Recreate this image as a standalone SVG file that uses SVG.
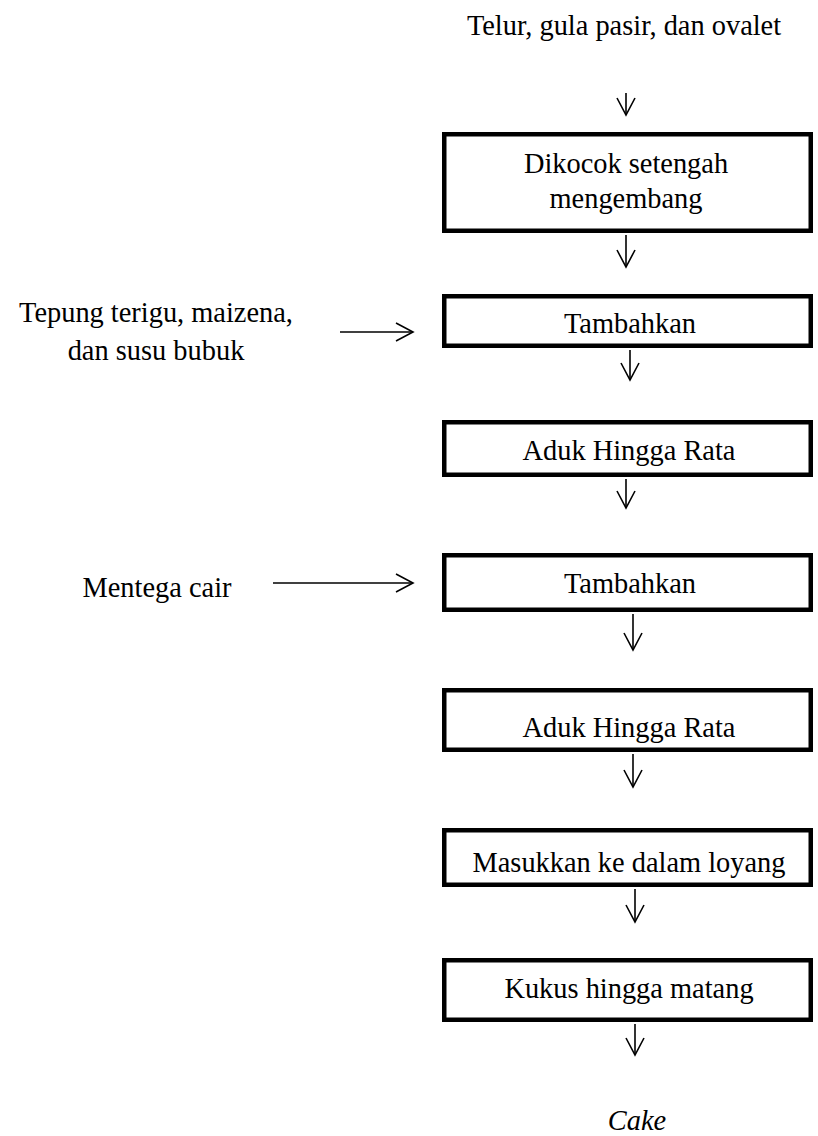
<svg xmlns="http://www.w3.org/2000/svg" width="818" height="1136" viewBox="0 0 818 1136">
<style>
.box{fill:#fff;stroke:#000;stroke-width:4.5}
.t{font-family:"Liberation Serif","Times New Roman",serif;font-size:28.4px;fill:#000;text-anchor:middle}
.it{font-style:italic}
.c{stroke:#000;stroke-width:1.6;fill:none;marker-end:url(#ah)}
</style>
<defs>
<marker id="ah" viewBox="0 0 20 20" refX="18" refY="10" markerWidth="20" markerHeight="20" markerUnits="userSpaceOnUse" orient="auto">
<path d="M1,1 L18,10 L1,19" fill="none" stroke="#000" stroke-width="1.6"/>
</marker>
</defs>
<rect width="818" height="1136" fill="#fff"/>
<g id="connectors">
<path class="c" d="M626,93 V115"/>
<path class="c" d="M626,235 V267"/>
<path class="c" d="M630,350 V380"/>
<path class="c" d="M626,479 V508"/>
<path class="c" d="M633,614 V650"/>
<path class="c" d="M633,754 V787"/>
<path class="c" d="M635,889 V922"/>
<path class="c" d="M635,1024 V1055"/>
<path class="c" d="M340,332 H413"/>
<path class="c" d="M273,583 H413"/>
</g>
<g id="input1"><text class="t" x="624" y="35">Telur, gula pasir, dan ovalet</text></g>
<g id="input2"><text class="t" x="156" y="322">Tepung terigu, maizena,</text><text class="t" x="156" y="360">dan susu bubuk</text></g>
<g id="input3"><text class="t" x="157" y="597">Mentega cair</text></g>
<g id="n1"><rect class="box" x="444.25" y="134.25" width="366.5" height="96.5"/><text class="t" x="626" y="173">Dikocok setengah</text><text class="t" x="626" y="208">mengembang</text></g>
<g id="n2"><rect class="box" x="444.25" y="296.25" width="366.5" height="49.5"/><text class="t" x="630" y="333">Tambahkan</text></g>
<g id="n3"><rect class="box" x="444.25" y="422.25" width="366.5" height="52.5"/><text class="t" x="629" y="460">Aduk Hingga Rata</text></g>
<g id="n4"><rect class="box" x="444.25" y="555.25" width="366.5" height="54.5"/><text class="t" x="630" y="593">Tambahkan</text></g>
<g id="n5"><rect class="box" x="444.25" y="690.25" width="366.5" height="59.5"/><text class="t" x="629" y="737">Aduk Hingga Rata</text></g>
<g id="n6"><rect class="box" x="444.25" y="830.25" width="366.5" height="54.5"/><text class="t" x="629" y="872">Masukkan ke dalam loyang</text></g>
<g id="n7"><rect class="box" x="444.25" y="960.25" width="366.5" height="59.5"/><text class="t" x="629" y="998">Kukus hingga matang</text></g>
<g id="output"><text class="t it" x="637" y="1130">Cake</text></g>
</svg>
